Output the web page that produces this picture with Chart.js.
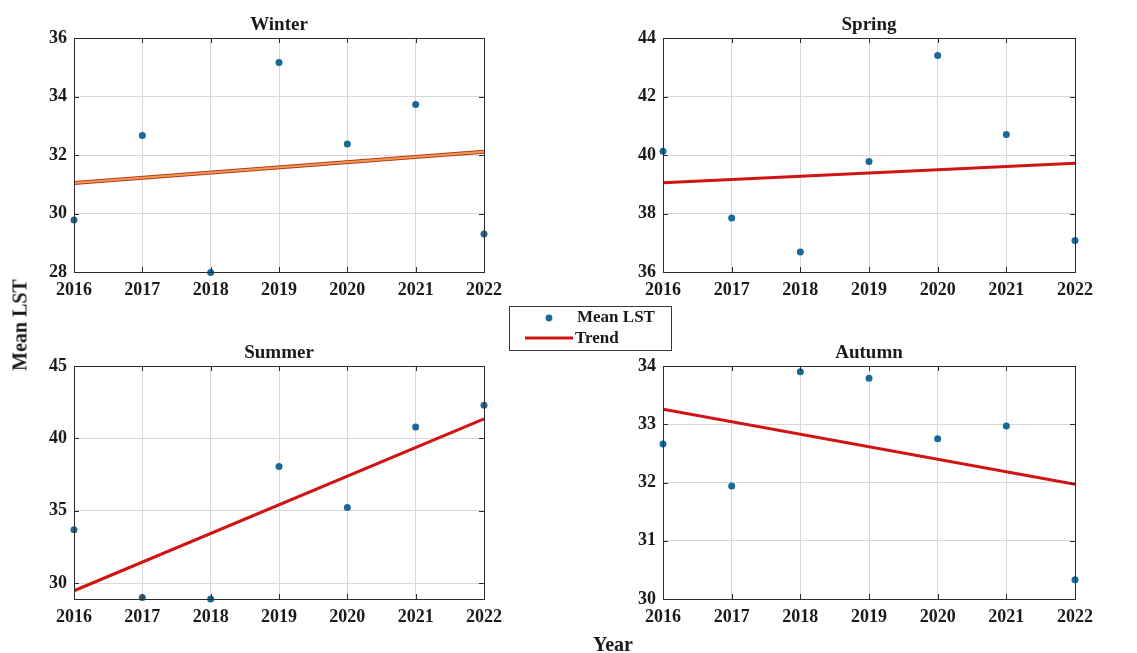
<!DOCTYPE html>
<html>
<head>
<meta charset="utf-8">
<script src="https://cdn.jsdelivr.net/npm/chart.js@4/dist/chart.umd.min.js"></script>
<style>
  html, body { margin: 0; padding: 0; background: #ffffff; }
  #wrap { position: relative; width: 1137px; height: 653px; overflow: hidden; }
  #wrap canvas { position: absolute; left: 0; top: 0; }
  .axis-title { position: absolute; font-family: "Liberation Serif", "Times New Roman", serif;
                font-weight: bold; font-size: 20px; color: #1a1a1a; white-space: nowrap; }
</style>
</head>
<body>
<div id="wrap">
  <canvas id="cWinter" width="1137" height="653"></canvas>
  <canvas id="cSpring" width="1137" height="653"></canvas>
  <canvas id="cSummer" width="1137" height="653"></canvas>
  <canvas id="cAutumn" width="1137" height="653"></canvas>
  <div class="axis-title" id="yTitle" style="left:20px; top:325px; transform: translate(-50%,-50%) rotate(-90deg);">Mean LST</div>
  <div class="axis-title" id="xTitle" style="left:613px; top:644px; transform: translate(-50%,-50%);">Year</div>
</div>
<script>
// Seasonal mean land surface temperature, 2016–2022
const years = [2016, 2017, 2018, 2019, 2020, 2021, 2022];

const winterLST = [29.78, 32.67, 27.98, 35.16, 32.38, 33.73, 29.30];
const springLST = [40.13, 37.85, 36.68, 39.78, 43.40, 40.70, 37.08];
const summerLST = [33.69, 29.00, 28.90, 38.06, 35.22, 40.79, 42.28];
const autumnLST = [32.66, 31.94, 33.90, 33.79, 32.75, 32.97, 30.33];

// Linear trend values at the first and last year
const trendYears = [2016, 2022];
const winterTrend = [31.04, 32.11];
const springTrend = [39.05, 39.72];
const summerTrend = [29.47, 41.34];
const autumnTrend = [33.26, 31.97];

// Y-axis ranges and tick labels
const winterRange = [28, 36];
const springRange = [36, 44];
const summerRange = [28.9, 45];
const autumnRange = [30, 34];
const winterTicks = [28, 30, 32, 34, 36];
const springTicks = [36, 38, 40, 42, 44];
const summerTicks = [30, 35, 40, 45];
const autumnTicks = [30, 31, 32, 33, 34];

const FONT = '"Liberation Serif", "Times New Roman", serif';
const TEXT = '#1a1a1a';
const POINT = '#18699a';
const TREND = '#d01414';

// Frame, inward tick marks and panel title
const framePlugin = {
  id: 'frame',
  afterDraw(chart, args, opts) {
    const { ctx, chartArea: a, scales } = chart;
    ctx.save();
    ctx.strokeStyle = '#2b2b2b';
    ctx.lineWidth = 1;
    const tl = 5;
    ctx.beginPath();
    scales.x.ticks.forEach(t => {
      const px = Math.round(scales.x.getPixelForValue(t.value)) + 0.5;
      ctx.moveTo(px, a.bottom); ctx.lineTo(px, a.bottom - tl);
      ctx.moveTo(px, a.top); ctx.lineTo(px, a.top + tl);
    });
    scales.y.ticks.forEach(t => {
      const py = Math.round(scales.y.getPixelForValue(t.value)) + 0.5;
      ctx.moveTo(a.left, py); ctx.lineTo(a.left + tl, py);
      ctx.moveTo(a.right, py); ctx.lineTo(a.right - tl, py);
    });
    ctx.stroke();
    ctx.strokeRect(Math.round(a.left) + 0.5, Math.round(a.top) + 0.5,
                   Math.round(a.right - a.left), Math.round(a.bottom - a.top));
    ctx.fillStyle = TEXT;
    ctx.font = 'bold 19px ' + FONT;
    ctx.textAlign = 'center';
    ctx.textBaseline = 'alphabetic';
    ctx.fillText(opts.title, (a.left + a.right) / 2, a.top - 8);
    ctx.restore();
  }
};

// Shared legend box between the panels
const legendPlugin = {
  id: 'sharedLegend',
  afterDraw(chart, args, opts) {
    if (!opts.show) return;
    const ctx = chart.ctx;
    ctx.save();
    ctx.fillStyle = '#ffffff';
    ctx.fillRect(509, 306, 162, 44);
    ctx.strokeStyle = '#3a3a3a';
    ctx.lineWidth = 1;
    ctx.strokeRect(509.5, 306.5, 162, 44);
    ctx.fillStyle = POINT;
    ctx.beginPath();
    ctx.arc(549, 318, 3.4, 0, Math.PI * 2);
    ctx.fill();
    ctx.strokeStyle = TREND;
    ctx.lineWidth = 3;
    ctx.beginPath();
    ctx.moveTo(525, 338); ctx.lineTo(573, 338);
    ctx.stroke();
    ctx.fillStyle = TEXT;
    ctx.font = 'bold 17px ' + FONT;
    ctx.textAlign = 'left';
    ctx.textBaseline = 'middle';
    ctx.fillText('Mean LST', 577, 318);
    ctx.fillText('Trend', 575, 339);
    ctx.restore();
  }
};

function makePanel(id, title, values, trend, range, ticks, area, opts) {
  opts = opts || {};
  const W = 1137, H = 653, yW = 40, xH = 32;
  const trendSets = opts.doubleTrend ? [
    { data: trendYears.map((x, i) => ({ x, y: trend[i] })), showLine: true, pointRadius: 0,
      borderColor: '#b8391c', borderWidth: 4, order: 2 },
    { data: trendYears.map((x, i) => ({ x, y: trend[i] })), showLine: true, pointRadius: 0,
      borderColor: '#f29a50', borderWidth: 2, order: 1 }
  ] : [
    { data: trendYears.map((x, i) => ({ x, y: trend[i] })), showLine: true, pointRadius: 0,
      borderColor: TREND, borderWidth: 3, order: 1 }
  ];
  return new Chart(document.getElementById(id), {
    type: 'scatter',
    data: {
      datasets: [
        { data: years.map((x, i) => ({ x, y: values[i] })), pointRadius: 3.5,
          pointBackgroundColor: POINT, pointBorderWidth: 0, clip: false, order: 0 },
        ...trendSets
      ]
    },
    options: {
      responsive: false,
      animation: false,
      events: [],
      layout: { padding: { left: area.l - yW, right: W - area.r, top: area.t, bottom: H - area.b - xH } },
      plugins: {
        legend: { display: false },
        tooltip: { enabled: false },
        frame: { title },
        sharedLegend: { show: !!opts.legend }
      },
      scales: {
        x: {
          type: 'linear', min: 2016, max: 2022,
          afterBuildTicks: s => { s.ticks = years.map(v => ({ value: v })); },
          afterFit: s => { s.height = xH; },
          grid: { color: '#d8d8d8', lineWidth: 1, drawTicks: false },
          border: { display: false },
          ticks: { color: TEXT, font: { family: FONT, size: 18, weight: 'bold' }, padding: 8,
                   maxRotation: 0, autoSkip: false, callback: v => String(v) }
        },
        y: {
          type: 'linear', min: range[0], max: range[1],
          afterBuildTicks: s => { s.ticks = ticks.map(v => ({ value: v })); },
          afterFit: s => { s.width = yW; },
          grid: { color: '#d8d8d8', lineWidth: 1, drawTicks: false },
          border: { display: false },
          ticks: { color: TEXT, font: { family: FONT, size: 18, weight: 'bold' }, padding: 7,
                   autoSkip: false, callback: v => String(v) }
        }
      }
    },
    plugins: [framePlugin, legendPlugin]
  });
}

makePanel('cWinter', 'Winter', winterLST, winterTrend, winterRange, winterTicks,
          { l: 74, r: 484, t: 38, b: 272 }, { doubleTrend: true });
makePanel('cSpring', 'Spring', springLST, springTrend, springRange, springTicks,
          { l: 663, r: 1075, t: 38, b: 272 });
makePanel('cSummer', 'Summer', summerLST, summerTrend, summerRange, summerTicks,
          { l: 74, r: 484, t: 366, b: 599 });
makePanel('cAutumn', 'Autumn', autumnLST, autumnTrend, autumnRange, autumnTicks,
          { l: 663, r: 1075, t: 366, b: 599 }, { legend: true });
</script>
</body>
</html>
